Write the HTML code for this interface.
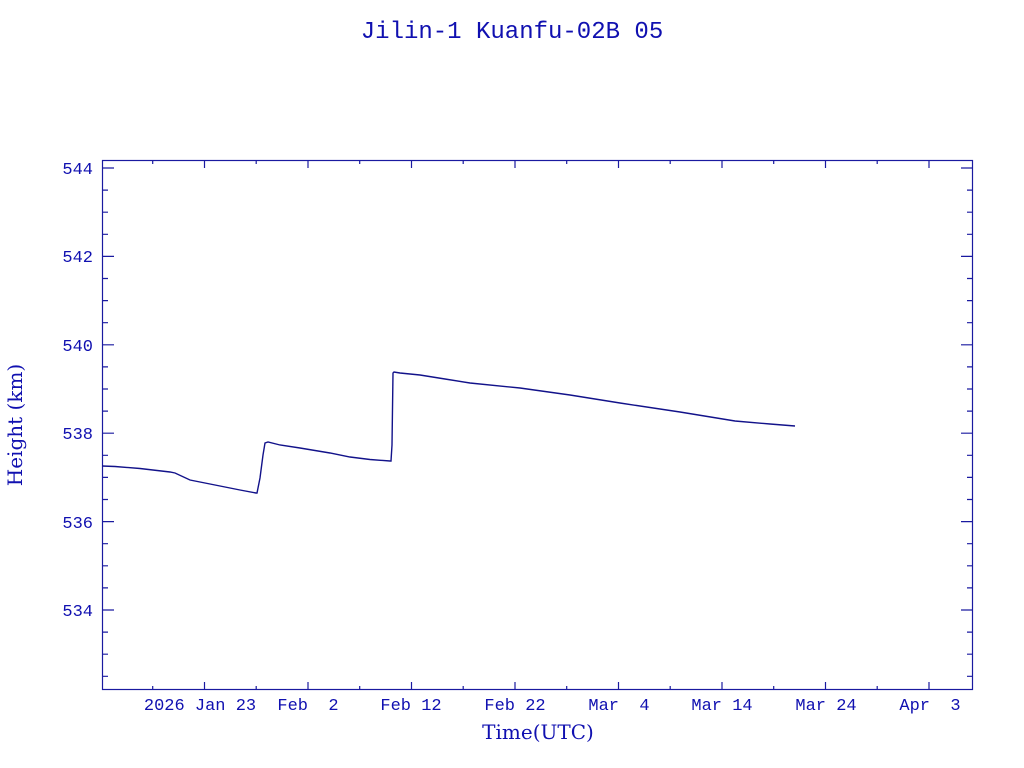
<!DOCTYPE html>
<html><head><meta charset="utf-8"><style>
html,body{margin:0;padding:0;background:#fff;}
svg{display:block;}
text{font-family:"DejaVu Serif","Liberation Serif",serif;fill:#1010b0;}
text.m{font-family:"Liberation Mono",monospace;}
</style></head><body>
<svg width="1024" height="768" viewBox="0 0 1024 768" xmlns="http://www.w3.org/2000/svg">
<text class="m" x="512" y="38" font-size="24" text-anchor="middle">Jilin-1 Kuanfu-02B 05</text>
<rect x="102.5" y="160.5" width="870" height="529" fill="none" stroke="#1a1aa0" stroke-width="1.2"/>
<g stroke="#1a1aa0" stroke-width="1.2">
<path d="M102 168h12M102 256.4h12M102 344.8h12M102 433.2h12M102 521.6h12M102 610h12
M973 168h-12M973 256.4h-12M973 344.8h-12M973 433.2h-12M973 521.6h-12M973 610h-12
M102 190.1h6M102 212.2h6M102 234.3h6M102 278.5h6M102 300.6h6M102 322.7h6M102 366.9h6M102 389h6M102 411.1h6M102 455.3h6M102 477.4h6M102 499.5h6M102 543.7h6M102 565.8h6M102 587.9h6M102 632.1h6M102 654.2h6M102 676.3h6
M973 190.1h-6M973 212.2h-6M973 234.3h-6M973 278.5h-6M973 300.6h-6M973 322.7h-6M973 366.9h-6M973 389h-6M973 411.1h-6M973 455.3h-6M973 477.4h-6M973 499.5h-6M973 543.7h-6M973 565.8h-6M973 587.9h-6M973 632.1h-6M973 654.2h-6M973 676.3h-6"/>
<path d="M204.5 690v-8M308 690v-8M411.5 690v-8M515 690v-8M618.5 690v-8M722 690v-8M825.5 690v-8M929 690v-8
M204.5 160v8M308 160v8M411.5 160v8M515 160v8M618.5 160v8M722 160v8M825.5 160v8M929 160v8
M152.7 690v-4M256.2 690v-4M359.7 690v-4M463.2 690v-4M566.7 690v-4M670.2 690v-4M773.7 690v-4M877.2 690v-4
M152.7 160v4M256.2 160v4M359.7 160v4M463.2 160v4M566.7 160v4M670.2 160v4M773.7 160v4M877.2 160v4"/>
</g>
<g font-size="17" text-anchor="end">
<text class="m" x="93" y="174">544</text><text class="m" x="93" y="262">542</text><text class="m" x="93" y="351">540</text>
<text class="m" x="93" y="439">538</text><text class="m" x="93" y="528">536</text><text class="m" x="93" y="616">534</text>
</g>
<g font-size="17" text-anchor="middle">
<text class="m" x="200" y="710" xml:space="preserve">2026 Jan 23</text><text class="m" x="308" y="710" xml:space="preserve">Feb  2</text><text class="m" x="411" y="710">Feb 12</text>
<text class="m" x="515" y="710">Feb 22</text><text class="m" x="619" y="710" xml:space="preserve">Mar  4</text><text class="m" x="722" y="710">Mar 14</text>
<text class="m" x="826" y="710">Mar 24</text><text class="m" x="930" y="710" xml:space="preserve">Apr  3</text>
</g>
<text x="538" y="739" font-size="20" text-anchor="middle">Time(UTC)</text>
<text transform="translate(22,425) rotate(-90)" font-size="20" text-anchor="middle">Height (km)</text>
<polyline fill="none" stroke="#12128a" stroke-width="1.4" points="102,466 115,466.5 140,468.5 170,472 175,473 190,480 210,484 240,490 256,493 257,493 260,478 263,455 265,443 268,442 280,445 300,448 330,453 350,457 370,459.5 390,461 391,461 392,445 393,373 394,372 400,373 420,375 445,379 470,383 520,388 570,395 620,403 680,412 735,421 770,424 795,426"/>
</svg>
</body></html>
